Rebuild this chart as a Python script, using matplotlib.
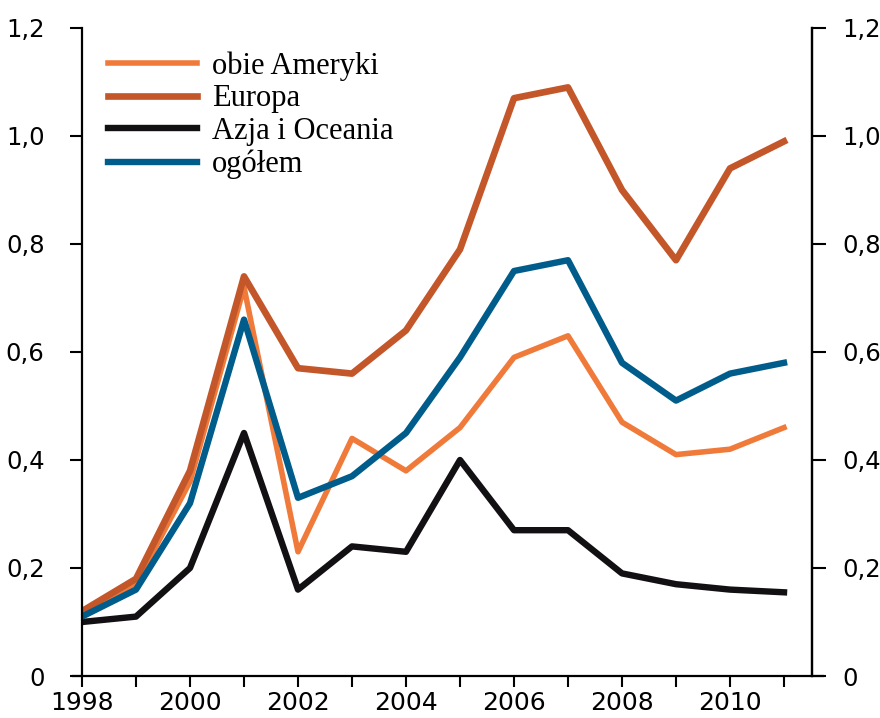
import matplotlib
matplotlib.use("Agg")
import matplotlib.pyplot as plt
from matplotlib.ticker import FuncFormatter

years = list(range(1998, 2012))
ameryki = [0.11, 0.17, 0.36, 0.72, 0.23, 0.44, 0.38, 0.46, 0.59, 0.63, 0.47, 0.41, 0.42, 0.46]
europa = [0.12, 0.18, 0.38, 0.74, 0.57, 0.56, 0.64, 0.79, 1.07, 1.09, 0.90, 0.77, 0.94, 0.99]
azja = [0.10, 0.11, 0.20, 0.45, 0.16, 0.24, 0.23, 0.40, 0.27, 0.27, 0.19, 0.17, 0.16, 0.155]
ogolem = [0.11, 0.16, 0.32, 0.66, 0.33, 0.37, 0.45, 0.59, 0.75, 0.77, 0.58, 0.51, 0.56, 0.58]
labels = ["obie Ameryki", "Europa", "Azja i Oceania", "ogółem"]
colors = ["#F07A3A", "#C4572A", "#121012", "#005C8A"]
yticks = [0, 0.2, 0.4, 0.6, 0.8, 1.0, 1.2]

fig = plt.figure(figsize=(8.8, 7.18), dpi=100)
W, H = 880, 718
ax = fig.add_axes([82 / W, (H - 676) / H, (812 - 82) / W, (676 - 28) / H])

ax.plot(years, ameryki, color=colors[0], lw=4.0, label=labels[0])
ax.plot(years, europa, color=colors[1], lw=4.8, label=labels[1])
ax.plot(years, azja, color=colors[2], lw=4.6, label=labels[2])
ax.plot(years, ogolem, color=colors[3], lw=4.6, label=labels[3])

ax.set_xlim(1998, 1998 + (812 - 82) / 54)
ax.set_ylim(0, 1.2)

def fmt(v, pos):
    if abs(v) < 1e-9:
        return "0"
    return ("%.1f" % v).replace(".", ",")

FP = matplotlib.font_manager.FontProperties
yfont = FP(family=["Liberation Sans Narrow", "DejaVu Sans"], size=17.5)
xfont = FP(family=["Liberation Sans Narrow", "DejaVu Sans"], size=18)

ax.set_yticks(yticks)
ax.yaxis.set_major_formatter(FuncFormatter(fmt))
ax.set_xticks(years)
ax.set_xticklabels([str(y) if y % 2 == 0 else "" for y in years])
for lab in ax.get_xticklabels():
    lab.set_fontproperties(xfont)
for lab in ax.get_yticklabels():
    lab.set_fontproperties(yfont)

ax.tick_params(axis="y", direction="out", length=9, width=1.5, pad=18)
ax.tick_params(axis="x", direction="out", length=8, width=1.5, pad=3)
ax.spines["top"].set_visible(False)
for s in ["left", "right", "bottom"]:
    ax.spines[s].set_linewidth(1.6)
ax.spines["bottom"].set_bounds(1998 - 9 / 54, 1998 + (823 - 82) / 54)

ax2 = ax.twinx()
ax2.set_ylim(0, 1.2)
ax2.set_yticks(yticks)
ax2.yaxis.set_major_formatter(FuncFormatter(fmt))
for lab in ax2.get_yticklabels():
    lab.set_fontproperties(yfont)
ax2.tick_params(axis="y", direction="out", length=10, width=1.5, pad=12)
for s in ["top", "left", "bottom"]:
    ax2.spines[s].set_visible(False)
ax2.spines["right"].set_linewidth(1.6)

leg = ax.legend(loc="upper left", bbox_to_anchor=(0.019, 0.983), frameon=False,
                prop=dict(family="Liberation Serif", size=22),
                handlelength=2.9, handletextpad=0.5, labelspacing=0.12,
                borderaxespad=0)

fig.savefig("out.png", dpi=100)
